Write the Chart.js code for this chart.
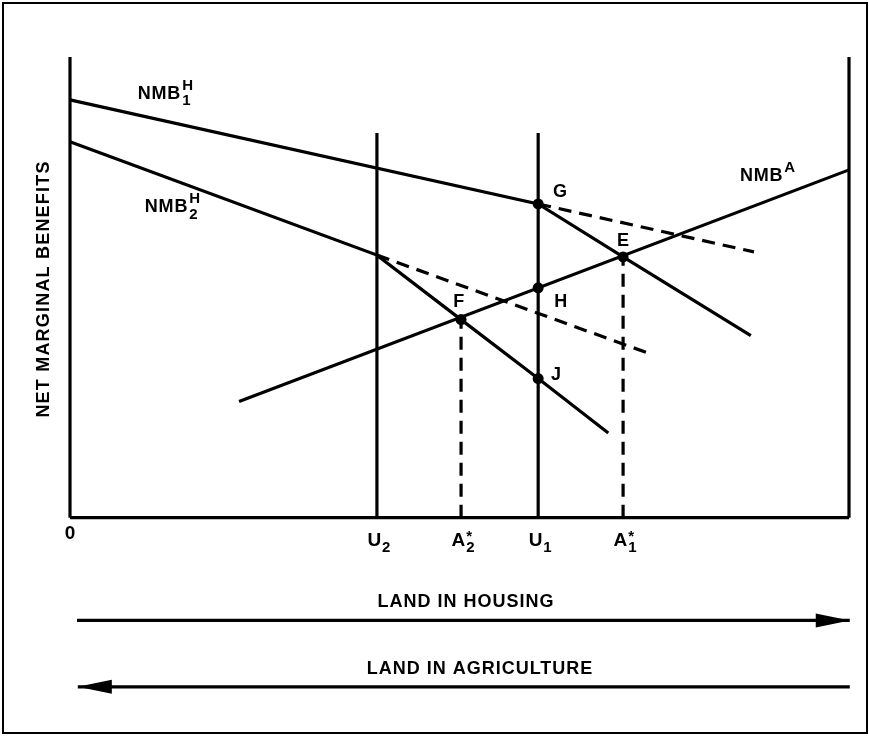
<!DOCTYPE html>
<html>
<head>
<meta charset="utf-8">
<script src="https://cdn.jsdelivr.net/npm/chart.js@4.4.0/dist/chart.umd.min.js"></script>
<style>
  html, body { margin: 0; padding: 0; background: #fff; }
  #wrap { width: 869px; height: 737px; }
</style>
</head>
<body>
<div id="wrap"><canvas id="myChart"></canvas></div>
<script>
// chart units: x 0..100 = land in housing, y 0..100 = net marginal benefits
const nmbH1 = [{x: 0, y: 90.7}, {x: 60.1, y: 68.1}, {x: 71.0, y: 56.6}, {x: 87.4, y: 39.5}];
const nmbH1Dash = [{x: 60.1, y: 68.1}, {x: 87.8, y: 57.7}];
const nmbH2 = [{x: 0, y: 81.6}, {x: 39.4, y: 57.0}, {x: 50.2, y: 43.0}, {x: 60.1, y: 30.2}, {x: 69.1, y: 18.4}];
const nmbH2Dash = [{x: 39.4, y: 57.0}, {x: 74.1, y: 35.8}];
const nmbA = [{x: 21.7, y: 25.2}, {x: 100, y: 75.5}];

const uLines = [39.4, 60.1];       // U2, U1
const uTop = 83.5;
const aStar = [{x: 50.2, y: 43.0}, {x: 71.0, y: 56.6}];   // A2*, A1*

const dots = [{x: 60.1, y: 68.1}, {x: 71.0, y: 56.6}, {x: 60.1, y: 49.9}, {x: 50.2, y: 43.0}, {x: 60.1, y: 30.2}];
const dotNames = ['G', 'E', 'H', 'F', 'J'];
const dotLabelAt = [{x: 62.9, y: 70.7}, {x: 71.0, y: 60.1}, {x: 63.0, y: 46.9}, {x: 49.9, y: 46.9}, {x: 62.4, y: 31.0}];

const curveNames = ['NMB', 'NMB', 'NMB'];
const curveSup = ['H', 'H', 'A'];
const curveSub = ['1', '2', ''];
const curveLabelAt = [{x: 8.7, y: 90.9}, {x: 9.6, y: 66.3}, {x: 86.0, y: 73.1}];

const tickX = [0, 39.4, 50.2, 60.1, 71.0];
const tickText = ['0', 'U', 'A', 'U', 'A'];
const tickSub = ['', '2', '2', '1', '1'];
const tickSup = ['', '', '*', '', '*'];

const arrowHousing = [{x: 0.9, y: -22.3}, {x: 100.1, y: -22.3}];
const arrowAgri = [{x: 100.1, y: -36.7}, {x: 1.0, y: -36.7}];

const FONT = '"Liberation Sans", Arial, Helvetica, sans-serif';

function line(data, dashed, width) {
  return {
    data: data,
    showLine: true,
    borderColor: '#000',
    backgroundColor: '#000',
    borderWidth: width || 3.2,
    borderDash: dashed ? [13, 8] : [],
    pointRadius: 0,
    clip: false
  };
}

const datasets = [
  line([{x: 0, y: 0}, {x: 0, y: 100}]),
  line([{x: 100, y: 0}, {x: 100, y: 100}]),
  line([{x: 0, y: 0}, {x: 100, y: 0}]),
  line(nmbH1),
  line(nmbH1Dash, true),
  line(nmbH2),
  line(nmbH2Dash, true),
  line(nmbA)
];
uLines.forEach(u => datasets.push(line([{x: u, y: 0}, {x: u, y: uTop}])));
aStar.forEach(a => datasets.push(line([{x: a.x, y: 0}, {x: a.x, y: a.y}], true)));
datasets.push(line(arrowHousing));
datasets.push(line(arrowAgri));
datasets.push({
  data: dots,
  showLine: false,
  pointRadius: 5.5,
  pointBackgroundColor: '#000',
  pointBorderWidth: 0,
  clip: false
});

function setFont(ctx, size, spacing) {
  ctx.font = 'bold ' + size + 'px ' + FONT;
  ctx.letterSpacing = (spacing || 0) + 'px';
}

// main text with stacked super/subscript after it, left aligned at x, baseline y
function richText(ctx, x, y, main, sup, sub, size, small, spacing) {
  setFont(ctx, size, spacing);
  ctx.textAlign = 'left';
  ctx.textBaseline = 'alphabetic';
  ctx.fillText(main, x, y);
  const w = ctx.measureText(main).width;
  setFont(ctx, small, 0);
  if (sup) ctx.fillText(sup, x + w + 1, y - size * 0.5);
  if (sub) ctx.fillText(sub, x + w + 1, y + size * 0.35);
}

function richWidth(ctx, main, sup, sub, size, small, spacing) {
  setFont(ctx, size, spacing);
  const w = ctx.measureText(main).width;
  setFont(ctx, small, 0);
  const s = Math.max(sup ? ctx.measureText(sup).width : 0, sub ? ctx.measureText(sub).width : 0);
  return w + (s ? s + 1 : 0);
}

const annot = {
  id: 'annot',
  beforeDraw(chart) {
    const ctx = chart.ctx;
    ctx.save();
    ctx.fillStyle = '#fff';
    ctx.fillRect(0, 0, chart.width, chart.height);
    ctx.strokeStyle = '#000';
    ctx.lineWidth = 2;
    ctx.strokeRect(3, 3, 864, 730);
    ctx.restore();
  },
  afterDatasetsDraw(chart) {
    const ctx = chart.ctx;
    const xs = chart.scales.x, ys = chart.scales.y;
    ctx.save();
    ctx.fillStyle = '#000';

    // point letters
    setFont(ctx, 18, 0);
    ctx.textAlign = 'center';
    ctx.textBaseline = 'middle';
    dotNames.forEach((n, i) => {
      ctx.fillText(n, xs.getPixelForValue(dotLabelAt[i].x), ys.getPixelForValue(dotLabelAt[i].y));
    });

    // curve names
    curveNames.forEach((n, i) => {
      richText(ctx, xs.getPixelForValue(curveLabelAt[i].x), ys.getPixelForValue(curveLabelAt[i].y),
        n, curveSup[i], curveSub[i], 18, 15, 0.8);
    });

    // tick labels under the axis
    const base = ys.getPixelForValue(0);
    tickX.forEach((t, i) => {
      const w = richWidth(ctx, tickText[i], tickSup[i], tickSub[i], 19, 15, 0);
      const x0 = xs.getPixelForValue(t) - w / 2 + (i ? 2 : 0);
      const by = base + (i ? 28 : 21);
      setFont(ctx, 19, 0);
      ctx.textAlign = 'left';
      ctx.textBaseline = 'alphabetic';
      ctx.fillText(tickText[i], x0, by);
      const mw = ctx.measureText(tickText[i]).width;
      setFont(ctx, 15, 0);
      if (tickSub[i]) ctx.fillText(tickSub[i], x0 + mw + 1, by + 6);
      if (tickSup[i]) ctx.fillText(tickSup[i], x0 + mw + 1, by - 5);
    });

    // y axis title
    setFont(ctx, 18, 1.2);
    ctx.save();
    ctx.translate(44, 289);
    ctx.rotate(-Math.PI / 2);
    ctx.textAlign = 'center';
    ctx.textBaseline = 'middle';
    ctx.fillText('NET MARGINAL BENEFITS', 0, 0);
    ctx.restore();

    // arrow heads and their captions
    const captions = ['LAND IN HOUSING', 'LAND IN AGRICULTURE'];
    const captionX = [466, 480];
    [arrowHousing, arrowAgri].forEach((arr, i) => {
      const tip = arr[arr.length - 1];
      const px = xs.getPixelForValue(tip.x), py = ys.getPixelForValue(tip.y);
      const dir = arr[1].x > arr[0].x ? 1 : -1;
      ctx.beginPath();
      ctx.moveTo(px, py);
      ctx.lineTo(px - dir * 34, py - 7);
      ctx.lineTo(px - dir * 34, py + 7);
      ctx.closePath();
      ctx.fill();
      setFont(ctx, 18, 1);
      ctx.textAlign = 'center';
      ctx.textBaseline = 'middle';
      ctx.fillText(captions[i], captionX[i], py - 18);
    });
    ctx.restore();
  }
};

const myChart = new Chart(document.getElementById('myChart'), {
  type: 'scatter',
  data: {datasets: datasets},
  options: {
    responsive: true,
    maintainAspectRatio: false,
    animation: false,
    events: [],
    layout: {padding: {left: 70, right: 20, top: 57, bottom: 35}},
    plugins: {legend: {display: false}, tooltip: {enabled: false}},
    scales: {
      x: {type: 'linear', min: 0, max: 100, display: false},
      y: {type: 'linear', min: -40, max: 100, display: false}
    }
  },
  plugins: [annot]
});
</script>
</body>
</html>
